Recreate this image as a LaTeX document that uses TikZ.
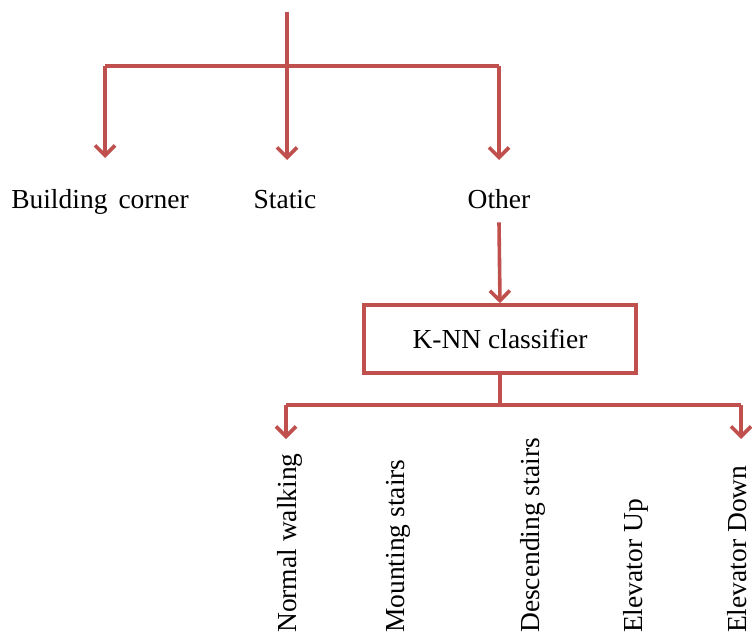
\documentclass[tikz,border=0pt]{standalone}
\usepackage{fontspec}
\setmainfont{Liberation Serif}
\usetikzlibrary{arrows.meta}
\definecolor{ored}{RGB}{192,80,77}
\begin{document}
\begin{tikzpicture}[x=1pt,y=-1pt,
  conn/.style={draw=ored,line width=3.6pt},
  arr/.style={conn,-{Straight Barb[length=10pt,width=20pt,line width=3.6pt]}},
  lbl/.style={font=\fontsize{27.5}{30}\selectfont,inner sep=0pt},
  hlbl/.style={lbl,anchor=base},
  vlbl/.style={lbl,rotate=90,anchor=west},
  boxst/.style={draw=ored,line width=3.6pt,minimum width=272pt,minimum height=68pt,font=\fontsize{27.5}{30}\selectfont,inner sep=0pt}]
\useasboundingbox (0,0) rectangle (752,634);
\coordinate (top) at (287,12);
\coordinate (hl) at (105,66);
\coordinate (hm) at (287,66);
\coordinate (hr) at (499,66);
\coordinate (t1) at (105,158);
\coordinate (t2) at (287,160);
\coordinate (t3) at (499,160);
\node[hlbl] (bc) at (100,208) {Building\hspace{0.15em} corner};
\node[hlbl] (st) at (285,208) {Static};
\node[hlbl] (ot) at (499,208) {Other};
\node[boxst] (knn) at (500,339) {K-NN classifier};
\coordinate (j) at (500,405);
\coordinate (jl) at (286,405);
\coordinate (jr) at (741,405);
\coordinate (b1) at (286,439);
\coordinate (b2) at (741,439);
\draw[conn] (hl) -- (hr);
\draw[arr] (top) -- (t2);
\draw[arr] (hl) -- (t1);
\draw[arr] (hr) -- (t3);
\draw[arr] (ot.south) ++(0,14) -- (knn.north);
\draw[conn] (knn.south) -- (j);
\draw[conn] (jl) -- (jr);
\draw[arr] (jl) -- (b1);
\draw[arr] (jr) -- (b2);
\node[vlbl] (n1) at (290,633) {Normal walking};
\node[vlbl] (n2) at (398,633) {Mounting stairs};
\node[vlbl] (n3) at (533,633) {Descending stairs};
\node[vlbl] (n4) at (636,633) {Elevator Up};
\node[vlbl] (n5) at (737,633) {Elevator Down};
\end{tikzpicture}
\end{document}
